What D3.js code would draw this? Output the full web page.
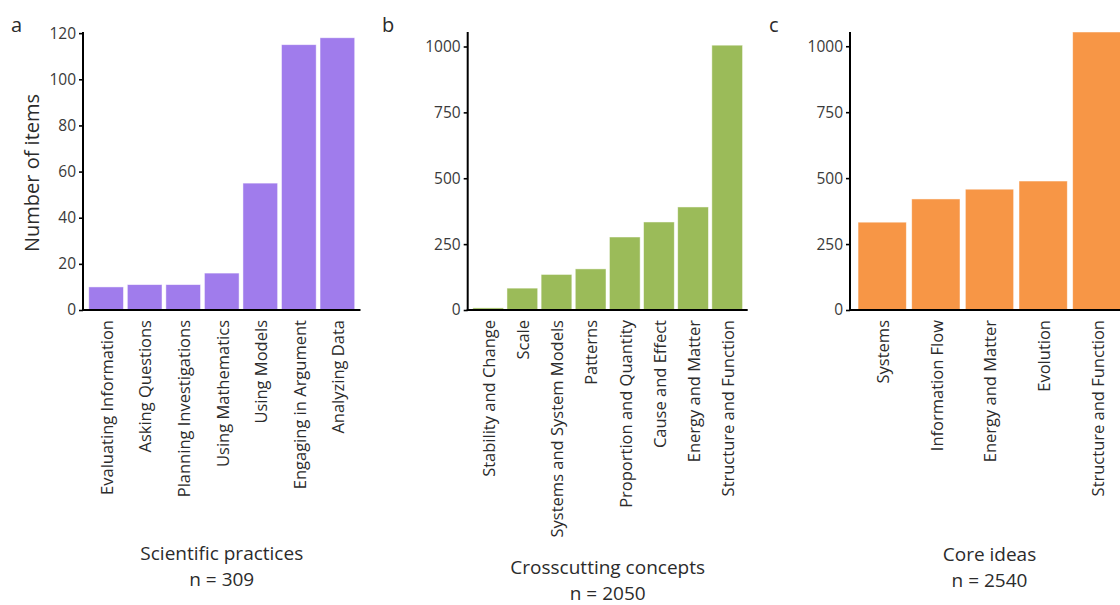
<!DOCTYPE html>
<html>
<head>
<meta charset="utf-8">
<script src="https://cdn.jsdelivr.net/npm/d3@7"></script>
<style>
  html, body { margin: 0; padding: 0; background: #fff; }
  svg { display: block; font-family: "Open Sans", "Noto Sans", sans-serif; }
</style>
</head>
<body>
<svg id="chart" width="1120" height="605"></svg>
<script>
// Scientific practices
const practiceCategories = ["Evaluating Information", "Asking Questions", "Planning Investigations",
  "Using Mathematics", "Using Models", "Engaging in Argument", "Analyzing Data"];
const practiceValues = [10, 11, 11, 16, 55, 115, 118];

// Crosscutting concepts
const conceptCategories = ["Stability and Change", "Scale", "Systems and System Models", "Patterns",
  "Proportion and Quantity", "Cause and Effect", "Energy and Matter", "Structure and Function"];
const conceptValues = [8, 83, 135, 156, 277, 334, 391, 1005];

// Core ideas
const ideaCategories = ["Systems", "Information Flow", "Energy and Matter", "Evolution", "Structure and Function"];
const ideaValues = [333, 421, 458, 489, 1054];

const practiceTicks = [0, 20, 40, 60, 80, 100, 120];
const countTicks = [0, 250, 500, 750, 1000];

const svg = d3.select("#chart");

const panels = [
  { letter: "a", cats: practiceCategories, vals: practiceValues, ticks: practiceTicks, yMax: 120.5,
    x0: 83, x1: 360.5, color: "#A07CEC", title: "Scientific practices", n: "n = 309",
    titleY: 560, letterX: 11 },
  { letter: "b", cats: conceptCategories, vals: conceptValues, ticks: countTicks, yMax: 1055,
    x0: 467.7, x1: 747.7, color: "#9BBB59", title: "Crosscutting concepts", n: "n = 2050",
    titleY: 574, letterX: 382 },
  { letter: "c", cats: ideaCategories, vals: ideaValues, ticks: countTicks, yMax: 1054,
    x0: 850, x1: 1129, color: "#F79646", title: "Core ideas", n: "n = 2540",
    titleY: 561, letterX: 769 }
];

const yBottom = 310;
const yTop = 32;
const textColor = "#2b2b2b";
const titleGap = 26;

panels.forEach(p => {
  const g = svg.append("g");

  const x = d3.scaleBand()
    .domain(p.cats)
    .range([p.x0, p.x1])
    .paddingInner(0.1)
    .paddingOuter(0.15);

  const y = d3.scaleLinear()
    .domain([0, p.yMax])
    .range([yBottom, yTop]);

  // bars
  g.selectAll("rect.bar")
    .data(p.vals)
    .join("rect")
    .attr("class", "bar")
    .attr("x", (d, i) => x(p.cats[i]))
    .attr("width", x.bandwidth())
    .attr("y", d => y(d))
    .attr("height", d => y(0) - y(d))
    .attr("fill", p.color)
    .attr("stroke", "#ffffff")
    .attr("stroke-opacity", 0.6)
    .attr("stroke-width", 0.8);

  // y axis
  const yAxis = d3.axisLeft(y).tickValues(p.ticks).tickSize(4).tickPadding(3).tickFormat(d3.format("d"));
  const ya = g.append("g").attr("transform", `translate(${p.x0},0)`).call(yAxis);
  ya.select(".domain").remove();
  ya.selectAll(".tick line").attr("stroke", "#000").attr("stroke-width", 1.6);
  ya.selectAll(".tick text").attr("fill", "#3a3a3a").style("font-size", "15.5px")
    .style("font-family", "\"Open Sans\", sans-serif");
  g.append("line")
    .attr("x1", p.x0).attr("x2", p.x0)
    .attr("y1", yTop).attr("y2", yBottom + 1)
    .attr("stroke", "#000").attr("stroke-width", 2);

  // x axis with rotated category labels
  const xAxis = d3.axisBottom(x).tickSize(0).tickPadding(0);
  const xa = g.append("g").attr("transform", `translate(0,${yBottom})`).call(xAxis);
  xa.select(".domain").remove();
  xa.selectAll(".tick text")
    .attr("transform", "rotate(-90)")
    .attr("x", -10)
    .attr("y", 1)
    .attr("dy", "0.35em")
    .attr("text-anchor", "end")
    .attr("fill", textColor)
    .style("font-size", "16.5px")
    .style("font-family", "\"Open Sans\", sans-serif");
  g.append("line")
    .attr("x1", p.x0 - 1).attr("x2", p.x1)
    .attr("y1", yBottom).attr("y2", yBottom)
    .attr("stroke", "#000").attr("stroke-width", 2);

  // panel letter
  svg.append("text")
    .attr("x", p.letterX).attr("y", 32)
    .attr("fill", textColor)
    .style("font-size", "20px")
    .text(p.letter);

  // titles below
  const cx = (p.x0 + p.x1) / 2;
  svg.append("text")
    .attr("x", cx).attr("y", p.titleY)
    .attr("text-anchor", "middle").attr("fill", textColor)
    .style("font-size", "19px")
    .text(p.title);
  svg.append("text")
    .attr("x", cx).attr("y", p.titleY + titleGap)
    .attr("text-anchor", "middle").attr("fill", textColor)
    .style("font-size", "19px")
    .text(p.n);
});

// y axis title
svg.append("text")
  .attr("transform", `translate(39,${(yTop + yBottom) / 2 + 2}) rotate(-90)`)
  .attr("text-anchor", "middle")
  .attr("fill", textColor)
  .style("font-size", "20px")
  .text("Number of items");
</script>
</body>
</html>
